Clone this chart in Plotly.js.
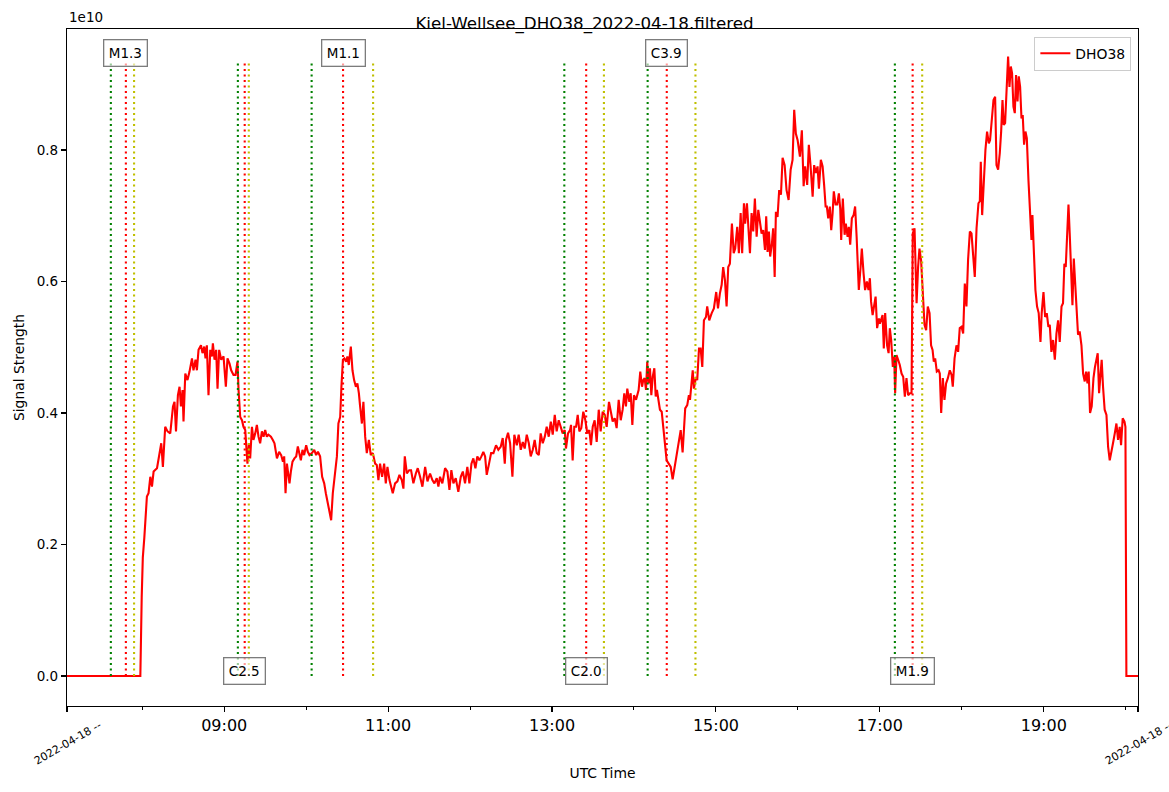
<!DOCTYPE html>
<html>
<head>
<meta charset="utf-8">
<script src="https://cdn.plot.ly/plotly-3.0.1.min.js"></script>
<style>html,body{margin:0;padding:0;background:#fff;}#chart{width:1169px;height:792px;}</style>
</head>
<body>
<div id="chart"></div>
<script>
// Observation day
const dayDate = '2022-04-18';
// Sample times, minutes after 00:00 UTC
const timeMin = [
424.9,478.6,479.6,480.4,481.5,483.4,484.6,485.9,487.1,488.3,490.8,492.7,493.9,495.1,496.8,498.5,500.5,502.5,503.6,504.7,
506.1,507.3,508.3,509.5,510.2,511.5,513.1,514.6,516.4,517.5,519.0,520.0,521.2,523.0,524.1,525.4,526.3,527.3,528.5,529.8,
531.0,531.7,532.9,534.1,535.1,536.3,537.8,539.5,541.2,542.4,543.9,545.1,546.8,548.3,549.7,550.5,551.7,553.0,554.1,555.4,
556.1,557.0,558.1,559.0,560.3,561.4,562.7,563.9,565.1,566.3,567.6,568.8,570.0,571.2,572.4,574.2,575.6,576.8,578.6,580.2,
581.7,583.0,583.9,584.9,585.9,586.8,587.8,588.8,590.0,591.4,592.7,593.9,594.9,596.1,597.3,598.5,600.0,601.2,602.4,604.2,
605.9,607.3,608.6,610.2,611.7,613.2,614.4,615.6,616.8,618.3,619.5,621.0,622.5,623.6,624.9,625.8,626.9,628.0,629.3,630.2,
631.2,632.7,633.9,635.1,636.4,637.5,638.6,639.5,640.8,641.9,643.2,644.4,645.9,647.3,648.8,650.5,651.7,652.9,654.1,655.6,
657.1,658.3,659.5,661.0,663.4,665.1,666.8,668.3,670.0,671.2,672.2,673.7,675.4,676.8,678.5,680.3,681.7,683.4,685.1,687.1,
688.8,690.7,692.4,693.9,695.6,696.8,698.0,699.7,701.7,703.4,704.9,706.3,707.8,709.5,711.4,713.2,714.7,716.3,718.0,719.5,
721.0,722.4,723.9,725.3,726.8,728.3,729.7,731.0,732.2,733.9,735.4,737.1,739.0,740.7,742.5,743.9,745.4,746.3,747.8,749.3,
751.0,752.4,754.2,755.6,757.1,758.6,760.0,761.5,763.0,764.4,765.9,767.3,768.8,770.3,771.7,773.2,774.7,776.1,777.6,779.1,
780.5,782.0,783.4,784.9,786.4,787.8,789.3,790.2,791.7,793.2,793.9,795.1,796.3,797.6,798.8,800.0,801.4,802.9,804.4,805.8,
807.3,808.5,809.8,811.2,812.7,814.2,815.6,817.1,818.6,820.0,821.7,823.2,824.4,825.9,827.3,828.8,830.3,831.7,832.9,834.1,
835.1,836.6,837.6,838.8,840.0,841.5,842.4,843.4,844.6,845.9,846.8,847.8,848.8,849.7,850.8,851.7,852.7,853.7,854.9,855.9,
856.8,858.1,859.0,860.3,861.4,862.7,863.9,865.4,866.9,868.3,869.8,871.2,872.7,874.2,875.6,876.6,877.5,879.0,880.2,881.0,
883.0,883.9,885.4,886.3,887.6,888.8,890.0,891.2,892.7,893.6,895.1,896.9,898.5,900.2,901.5,902.9,904.2,905.3,906.6,907.8,
909.0,910.2,911.7,913.0,914.1,915.6,916.8,918.1,919.2,920.5,921.4,922.7,923.9,924.9,926.1,927.3,928.5,929.8,931.0,932.2,
933.4,934.6,935.9,936.8,937.8,938.8,939.7,941.0,941.9,943.0,943.9,945.1,946.3,947.6,948.8,950.3,951.7,953.2,954.7,956.1,
957.3,958.5,959.8,961.5,962.9,964.2,965.3,966.8,968.0,969.3,970.8,971.9,973.2,974.4,975.4,976.8,978.1,979.2,980.3,981.2,
982.2,983.4,984.4,985.4,986.3,987.6,988.8,990.0,991.0,991.7,992.9,994.2,995.1,996.4,997.3,998.3,999.5,1000.8,1001.9,1003.0,
1003.7,1004.6,1005.9,1006.8,1008.1,1009.2,1010.5,1011.7,1012.7,1013.6,1014.7,1015.8,1016.9,1018.0,1019.3,1020.0,1022.0,1022.9,1023.9,1025.3,
1026.4,1027.3,1028.3,1029.5,1030.5,1031.2,1032.2,1033.4,1034.6,1035.9,1037.1,1038.3,1039.5,1040.7,1042.0,1043.2,1044.1,1045.4,1046.9,1048.0,
1049.0,1050.2,1051.5,1052.7,1053.9,1055.1,1056.4,1057.5,1058.6,1059.5,1060.5,1061.7,1063.0,1063.9,1064.9,1066.1,1067.3,1068.5,1069.8,1071.2,
1072.5,1073.4,1074.7,1076.1,1077.3,1078.5,1079.8,1081.0,1082.2,1083.4,1084.6,1085.9,1087.1,1088.3,1089.5,1090.8,1092.2,1093.2,1093.9,1094.9,
1096.1,1097.3,1098.5,1099.8,1100.7,1102.0,1103.2,1104.4,1105.4,1106.6,1107.8,1108.8,1109.8,1110.7,1111.7,1112.7,1113.9,1114.9,1115.9,1116.8,
1117.8,1118.8,1119.7,1120.8,1121.7,1122.7,1123.7,1124.6,1125.6,1126.6,1127.6,1128.8,1130.0,1131.0,1131.7,1132.7,1133.9,1135.1,1136.3,1137.6,
1138.5,1139.8,1141.0,1142.2,1143.4,1144.4,1145.6,1146.8,1148.1,1149.3,1150.5,1151.7,1153.0,1154.1,1155.1,1156.1,1157.1,1158.1,1159.0,1160.0,
1161.0,1162.0,1162.9,1163.9,1165.1,1166.3,1167.6,1168.8,1170.0,1171.0,1172.0,1172.9,1173.9,1175.1,1176.4,1177.5,1178.6,1179.5,1180.5,1181.5,
1182.4,1183.4,1184.6,1185.9,1187.1,1188.3,1189.5,1190.7,1192.0,1193.2,1194.4,1195.6,1196.6,1197.8,1199.1,1199.8,1200.5,1209.0
];
// DHO38 signal strength, units of 1e10
const signalE10 = [
0,0,0.12,0.18,0.21,0.273,0.278,0.303,0.288,0.311,0.316,0.336,0.354,0.318,0.379,0.372,0.369,0.41,0.417,0.372,
0.427,0.44,0.41,0.435,0.387,0.46,0.45,0.463,0.483,0.465,0.481,0.465,0.496,0.503,0.491,0.501,0.483,0.503,0.427,0.496,
0.486,0.506,0.481,0.496,0.437,0.496,0.481,0.486,0.44,0.483,0.475,0.465,0.458,0.458,0.478,0.435,0.394,0.389,0.379,0.374,
0.354,0.323,0.354,0.331,0.379,0.359,0.369,0.382,0.364,0.354,0.372,0.364,0.374,0.364,0.367,0.364,0.359,0.354,0.331,0.341,
0.336,0.326,0.334,0.278,0.323,0.308,0.293,0.311,0.326,0.331,0.334,0.349,0.339,0.328,0.344,0.336,0.351,0.341,0.336,0.339,
0.344,0.336,0.341,0.334,0.303,0.293,0.278,0.265,0.257,0.237,0.278,0.308,0.334,0.384,0.394,0.44,0.481,0.483,0.478,0.486,
0.473,0.501,0.465,0.45,0.44,0.445,0.43,0.41,0.384,0.417,0.364,0.339,0.359,0.336,0.339,0.323,0.321,0.298,0.323,0.303,
0.323,0.293,0.318,0.298,0.278,0.293,0.296,0.306,0.298,0.285,0.334,0.308,0.313,0.313,0.293,0.308,0.316,0.303,0.288,0.318,
0.296,0.308,0.298,0.293,0.301,0.288,0.303,0.293,0.316,0.311,0.283,0.313,0.293,0.301,0.28,0.303,0.311,0.293,0.318,0.293,
0.323,0.331,0.316,0.334,0.328,0.334,0.341,0.334,0.306,0.323,0.339,0.339,0.351,0.344,0.349,0.362,0.323,0.359,0.37,0.354,
0.303,0.367,0.351,0.367,0.344,0.356,0.346,0.367,0.354,0.334,0.344,0.359,0.339,0.336,0.369,0.354,0.364,0.379,0.364,0.387,
0.367,0.397,0.372,0.389,0.377,0.369,0.374,0.346,0.369,0.374,0.382,0.328,0.379,0.379,0.397,0.372,0.377,0.402,0.389,0.369,
0.374,0.351,0.379,0.389,0.356,0.405,0.372,0.402,0.397,0.379,0.417,0.40,0.387,0.392,0.377,0.42,0.389,0.405,0.43,0.41,
0.437,0.417,0.43,0.382,0.427,0.42,0.427,0.435,0.463,0.44,0.45,0.453,0.435,0.478,0.445,0.468,0.427,0.455,0.468,0.425,
0.435,0.42,0.405,0.402,0.379,0.351,0.328,0.323,0.318,0.299,0.318,0.339,0.354,0.374,0.34,0.379,0.407,0.412,0.427,0.42,
0.465,0.437,0.455,0.45,0.498,0.498,0.47,0.541,0.546,0.562,0.541,0.552,0.559,0.584,0.559,0.582,0.595,0.622,0.602,0.562,
0.622,0.627,0.688,0.643,0.65,0.683,0.643,0.704,0.643,0.719,0.688,0.719,0.683,0.643,0.704,0.676,0.726,0.668,0.709,0.691,
0.673,0.678,0.648,0.699,0.645,0.676,0.638,0.658,0.681,0.607,0.706,0.698,0.739,0.732,0.788,0.777,0.739,0.724,0.77,0.785,
0.861,0.825,0.815,0.79,0.83,0.745,0.775,0.747,0.808,0.775,0.729,0.777,0.765,0.775,0.741,0.785,0.775,0.747,0.714,0.714,
0.696,0.714,0.678,0.704,0.737,0.717,0.717,0.734,0.711,0.663,0.726,0.671,0.688,0.668,0.683,0.656,0.696,0.701,0.714,0.668,
0.617,0.587,0.622,0.65,0.612,0.587,0.60,0.587,0.605,0.569,0.549,0.562,0.577,0.529,0.544,0.536,0.549,0.498,0.552,0.503,
0.491,0.529,0.511,0.47,0.486,0.43,0.488,0.481,0.473,0.46,0.455,0.425,0.453,0.427,0.43,0.43,0.673,0.681,0.567,0.622,
0.65,0.632,0.587,0.534,0.526,0.562,0.552,0.503,0.496,0.478,0.483,0.463,0.465,0.46,0.40,0.453,0.42,0.445,0.453,0.465,
0.458,0.44,0.483,0.503,0.493,0.529,0.531,0.521,0.597,0.562,0.633,0.676,0.673,0.643,0.607,0.681,0.719,0.722,0.782,0.701,
0.765,0.80,0.828,0.81,0.815,0.851,0.876,0.881,0.777,0.77,0.795,0.828,0.876,0.838,0.841,0.887,0.942,0.896,0.927,0.917,
0.866,0.856,0.914,0.874,0.912,0.896,0.848,0.853,0.808,0.828,0.818,0.754,0.704,0.663,0.701,0.648,0.587,0.562,0.552,0.508,
0.552,0.584,0.546,0.552,0.531,0.534,0.493,0.511,0.481,0.521,0.541,0.508,0.562,0.567,0.627,0.622,0.668,0.717,0.673,0.612,
0.564,0.635,0.602,0.552,0.519,0.524,0.503,0.46,0.448,0.463,0.445,0.463,0.40,0.41,0.453,0.47,0.481,0.491,0.43,0.455,
0.481,0.44,0.405,0.397,0.349,0.328,0.339,0.354,0.369,0.384,0.359,0.379,0.351,0.392,0.387,0.379,0,0
];
// Solar flare events (GOES class, start / peak / end times UTC)
const flareClass = ['M1.3','C2.5','M1.1','C2.0','C3.9','M1.9'];
const flareStart = ['07:37','09:10','10:04','13:09','14:10','17:11'];
const flarePeak  = ['07:48','09:15','10:27','13:25','14:24','17:24'];
const flareEnd   = ['07:54','09:18','10:49','13:38','14:45','17:31'];
const flareLineTopE10 = 0.934;
// Axis tick labels
const hourTicks = ['09:00','11:00','13:00','15:00','17:00','19:00'];
const minorHourTicks = ['08:00','10:00','12:00','14:00','16:00','18:00','20:00'];
const edgeTickLabel = '2022-04-18 --';

function pad(n){return String(n).padStart(2,'0');}
function minToDate(m){
  const s = Math.round(m*60);
  return dayDate+' '+pad(Math.floor(s/3600))+':'+pad(Math.floor((s%3600)/60))+':'+pad(s%60);
}
function hm(t){return dayDate+' '+t+':00';}

const xs = timeMin.map(minToDate);
const xStart = xs[0], xEnd = xs[xs.length-1];

const FONT = 'DejaVu Sans, Liberation Sans, sans-serif';
const shapes = [];
const annotations = [];
const colors = {start:'#008000', peak:'#ff0000', end:'#bfbf00'};
flareClass.forEach((c,i)=>{
  [['start',flareStart[i]],['peak',flarePeak[i]],['end',flareEnd[i]]].forEach(([k,t])=>{
    shapes.push({type:'line', xref:'x', yref:'y', x0:hm(t), x1:hm(t), y0:0, y1:flareLineTopE10,
      line:{color:colors[k], width:2.1, dash:'2.1px,3.4px'}});
  });
  const top = (i%2===0);
  annotations.push({xref:'x', yref:'y', x:hm(flarePeak[i]), y: top?0.9475:0.0076,
    text:c, showarrow:false, xanchor:'center', yanchor:'middle',
    font:{family:FONT, size:13.5, color:'#000'},
    bgcolor:'rgba(255,255,255,0.6)', bordercolor:'rgba(110,110,110,0.9)', borderwidth:1.3, borderpad:4.5});
});
annotations.push({xref:'paper', yref:'paper', x:0, y:1, xanchor:'left', yanchor:'bottom', yshift:2,
  text:'1e10', showarrow:false, font:{family:FONT, size:13.5, color:'#000'}});
[0,1].forEach(px=>{
  annotations.push({xref:'paper', yref:'paper', x:px, y:0, xanchor:'center', yanchor:'top', yshift:-10,
    text:edgeTickLabel, textangle:-30, showarrow:false, font:{family:FONT, size:11, color:'#000'}});
});

const trace = {x:xs, y:signalE10, type:'scatter', mode:'lines', name:'DHO38',
  line:{color:'#ff0000', width:2.1}};

const layout = {
  width:1169, height:792,
  margin:{l:66.7, r:30.7, t:29, b:86, pad:0},
  paper_bgcolor:'#fff', plot_bgcolor:'#fff',
  font:{family:FONT, color:'#000'},
  title:{text:'Kiel-Wellsee_DHO38_2022-04-18.filtered', font:{family:FONT, size:16.7, color:'#000'},
    x:0.5, xref:'container', y:1-23/792, yref:'container', xanchor:'center', yanchor:'middle'},
  xaxis:{type:'date', range:[xStart, xEnd], showgrid:false, zeroline:false,
    showline:true, mirror:true, linecolor:'#000', linewidth:1.1,
    ticks:'outside', ticklen:5, tickwidth:1.1, tickcolor:'#000',
    tickmode:'array', tickvals:[xStart].concat(hourTicks.map(hm), [xEnd]),
    ticktext:[''].concat(hourTicks, ['']),
    tickfont:{family:FONT, size:16, color:'#000'},
    minor:{tickmode:'array', tickvals:minorHourTicks.map(hm), ticks:'outside', ticklen:3, tickwidth:1, tickcolor:'#000', showgrid:false},
    title:{text:'UTC Time', font:{family:FONT, size:13.9, color:'#000'}, standoff:34}},
  yaxis:{range:[-0.0456, 0.984], showgrid:false, zeroline:false,
    showline:true, mirror:true, linecolor:'#000', linewidth:1.1,
    ticks:'outside', ticklen:5, tickwidth:1.1, tickcolor:'#000',
    tickmode:'array', tickvals:[0,0.2,0.4,0.6,0.8], ticktext:['0.0','0.2','0.4','0.6','0.8'],
    tickfont:{family:FONT, size:13.5, color:'#000'},
    title:{text:'Signal Strength', font:{family:FONT, size:13.9, color:'#000'}, standoff:8}},
  showlegend:true,
  legend:{x:0.9938, y:0.9886, xanchor:'right', yanchor:'top', bgcolor:'rgba(255,255,255,0.8)',
    bordercolor:'#cccccc', borderwidth:1, font:{family:FONT, size:13.9, color:'#000'}, itemwidth:30},
  shapes:shapes,
  annotations:annotations
};

Plotly.newPlot('chart', [trace], layout, {displayModeBar:false, staticPlot:true});
</script>
</body>
</html>
